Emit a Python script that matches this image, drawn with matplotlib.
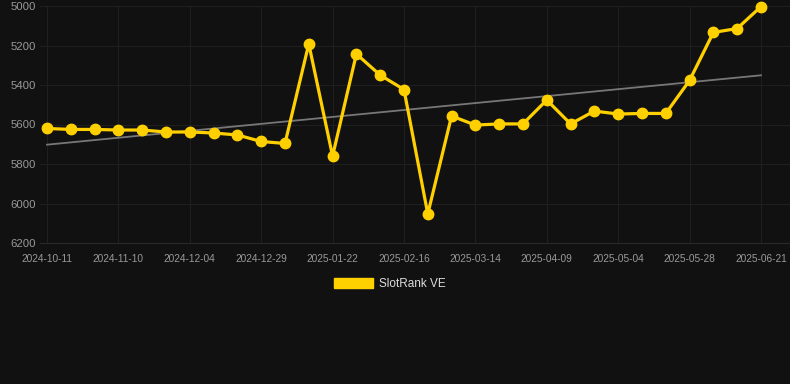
import matplotlib
matplotlib.use("Agg")
import matplotlib.pyplot as plt
from matplotlib.patches import Patch
import numpy as np

plt.rcParams['font.family'] = ['Liberation Sans', 'DejaVu Sans']

# ranks, one per snapshot (equally spaced on the x axis)
ranks = [5620, 5625, 5625, 5628, 5628, 5638, 5638, 5643, 5653, 5686, 5696,
         5192, 5760, 5243, 5350, 5423, 6053, 5557, 5603, 5597, 5597, 5476,
         5597, 5532, 5547, 5544, 5544, 5377, 5134, 5114, 5003]
tick_idx = [0, 3, 6, 9, 12, 15, 18, 21, 24, 27, 30]
tick_dates = ['2024-10-11', '2024-11-10', '2024-12-04', '2024-12-29', '2025-01-22',
              '2025-02-16', '2025-03-14', '2025-04-09', '2025-05-04', '2025-05-28',
              '2025-06-21']
yticks = [5000, 5200, 5400, 5600, 5800, 6000, 6200]

bg = '#111111'
gold = '#FFD000'

fig = plt.figure(figsize=(7.9, 3.84), dpi=100, facecolor=bg)
ax = fig.add_axes([40/790, 1-243/384, 750/790, 237/384], facecolor=bg)

x = np.arange(len(ranks))
coef = np.polyfit(x, ranks, 1)
trend = np.polyval(coef, x[[0, -1]])
ax.plot(x[[0, -1]], trend, color='#777777', lw=1.3, zorder=2)
ax.plot(x, ranks, color=gold, lw=2.3, marker='o', ms=7.5, zorder=3, clip_on=False)

ax.set_ylim(6200, 5000)
ax.set_xlim(-0.294, 31.22)
ax.set_yticks(yticks)
ax.set_xticks(tick_idx)
ax.set_xticklabels(tick_dates)
ax.tick_params(axis='y', colors='#999999', labelsize=8.2, length=0, pad=3)
ax.tick_params(axis='x', colors='#999999', labelsize=7.3, length=0, pad=8)
ax.grid(True, color='#1f1f1f', lw=0.8)
for s in ['top', 'right', 'left']:
    ax.spines[s].set_visible(False)
ax.spines['bottom'].set_color('#2a2a2a')

fig.legend(handles=[Patch(color=gold, label='SlotRank VE')], loc='center',
           bbox_to_anchor=(390/790, 1-284/384), frameon=False,
           labelcolor='#dddddd', fontsize=8.5, handlelength=3.3, handleheight=1.0,
           handletextpad=0.5)

fig.savefig('out.png', dpi=100, facecolor=bg)
